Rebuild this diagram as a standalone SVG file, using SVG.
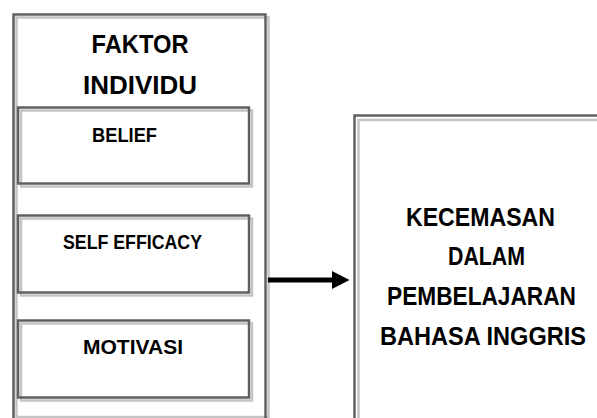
<svg xmlns="http://www.w3.org/2000/svg" width="597" height="418" viewBox="0 0 597 418">
<style>
.box{fill:none;stroke:#606060;stroke-width:2.5}
.shadow{fill:none;stroke:#c4c4c4;stroke-width:2.5}
.t{font-family:"Liberation Sans",Arial,sans-serif;font-weight:bold;fill:#000;text-anchor:middle}
.big{font-size:25px}
.small{font-size:20px}
</style>
<rect width="597" height="418" fill="#fff"/>
<g id="faktor-individu">
<rect class="shadow" x="16.5" y="17.5" width="252" height="399.5"/>
<rect class="box" x="13.5" y="14.5" width="252" height="410"/>
<text class="t big" x="140" y="53" textLength="97" lengthAdjust="spacingAndGlyphs">FAKTOR</text>
<text class="t big" x="140" y="94" textLength="114" lengthAdjust="spacingAndGlyphs">INDIVIDU</text>
</g>
<g id="belief">
<rect class="shadow" x="21" y="110.5" width="231" height="76"/>
<rect class="box" x="18" y="107.5" width="231" height="76"/>
<text class="t small" x="124.5" y="142" textLength="65" lengthAdjust="spacingAndGlyphs">BELIEF</text>
</g>
<g id="self-efficacy">
<rect class="shadow" x="21" y="218.5" width="231" height="77"/>
<rect class="box" x="18" y="215.5" width="231" height="77"/>
<text class="t small" x="132.5" y="249" textLength="139" lengthAdjust="spacingAndGlyphs">SELF EFFICACY</text>
</g>
<g id="motivasi">
<rect class="shadow" x="21" y="323.5" width="231" height="77"/>
<rect class="box" x="18" y="320.5" width="231" height="77"/>
<text class="t small" x="133" y="354" textLength="100" lengthAdjust="spacingAndGlyphs">MOTIVASI</text>
</g>
<g id="kecemasan">
<rect class="shadow" x="358.5" y="120" width="260" height="310"/>
<rect class="box" x="354.5" y="115.5" width="260" height="310"/>
<text class="t big" x="480.5" y="226" textLength="149" lengthAdjust="spacingAndGlyphs">KECEMASAN</text>
<text class="t big" x="486.5" y="265" textLength="77" lengthAdjust="spacingAndGlyphs">DALAM</text>
<text class="t big" x="481.5" y="305" textLength="189" lengthAdjust="spacingAndGlyphs">PEMBELAJARAN</text>
<text class="t big" x="483" y="345" textLength="206" lengthAdjust="spacingAndGlyphs">BAHASA INGGRIS</text>
</g>
<g id="connectors">
<line x1="268" y1="280" x2="334" y2="280" stroke="#000" stroke-width="5"/>
<polygon points="332,271 349.5,280 332,289" fill="#000"/>
</g>
</svg>
